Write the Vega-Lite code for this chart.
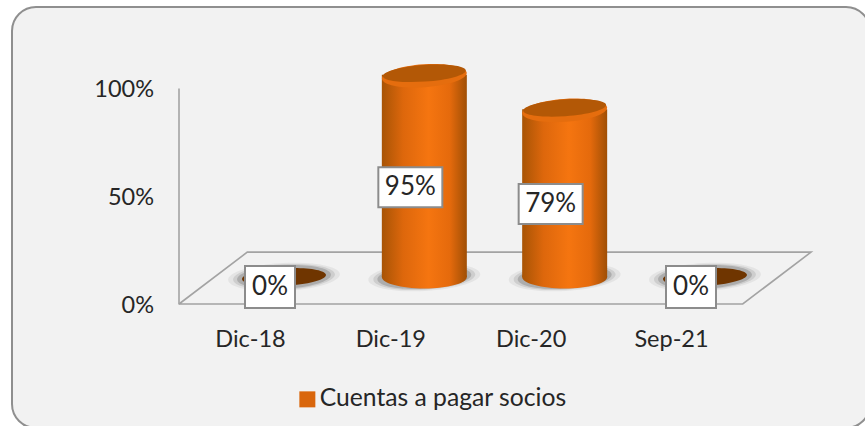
{
"$schema":"https://vega.github.io/schema/vega-lite/v6.json",
"width":858,"height":421,"autosize":"none",
"padding":{"left":12,"top":7,"right":0,"bottom":0},
"background":"#ffffff",
"view":{"fill":"#f2f2f2","stroke":"#8f8f8f","strokeWidth":2,"cornerRadius":24},
"config":{"font":"Lato"},
"datasets":{
"valores":[
{"mes":"Dic-18","valor":0,"serie":"Cuentas a pagar socios"},
{"mes":"Dic-19","valor":0.95,"serie":"Cuentas a pagar socios"},
{"mes":"Dic-20","valor":0.79,"serie":"Cuentas a pagar socios"},
{"mes":"Sep-21","valor":0,"serie":"Cuentas a pagar socios"}],
"suelo":[
{"orden":1,"u":0,"v":0},
{"orden":2,"u":0.892,"v":0},
{"orden":3,"u":1,"v":0.24},
{"orden":4,"u":0.108,"v":0.24},
{"orden":5,"u":0,"v":0}]
},
"resolve":{"scale":{"x":"independent","y":"independent"},"axis":{"x":"independent","y":"independent"}},
"layer":[
{"data":{"name":"suelo"},
 "mark":{"type":"line","stroke":"#a3a3a3","strokeWidth":1.6,"interpolate":"linear"},
 "encoding":{
  "x":{"field":"u","type":"quantitative","axis":null,"scale":{"domain":[0,1],"range":[167,799]}},
  "y":{"field":"v","type":"quantitative","axis":null,"scale":{"domain":[0,1],"range":[297,81]}},
  "order":{"field":"orden","type":"ordinal"}}},
{"data":{"name":"valores"},
 "encoding":{
  "x":{"field":"mes","type":"nominal","sort":null,"title":null,
   "scale":{"type":"point","padding":0,"range":[238,659],"domain":["Dic-18","Dic-19","Dic-20","Sep-21"]},
   "axis":{"orient":"bottom","offset":-101,"domain":false,"ticks":false,"labelPadding":0,"labelAngle":0,"labelFont":"Lato","labelFontSize":23.5,"labelColor":"#262626","grid":false}},
  "y":{"field":"valor","type":"quantitative","title":null,
   "scale":{"domain":[0,1],"range":[297,81]},
   "axis":{"orient":"left","offset":-166.5,"values":[0,0.5,1],"format":".0%","ticks":false,"labelPadding":25,"labelOffset":1.5,"labelFont":"Lato","labelFontSize":23.5,"labelColor":"#262626","domainColor":"#a3a3a3","domainWidth":1.6,"grid":false}}},
 "layer":[
  {"encoding":{"y":{"datum":0,"type":"quantitative"}},"mark":{"type":"point","filled":true,"shape":"M-1,0A1,0.25,0,1,1,1,0A1,0.25,0,1,1,-1,0Z","size":12544,"fill":"#808080","opacity":0.12,"angle":357,"xOffset":34,"yOffset":-27}},
  {"encoding":{"y":{"datum":0,"type":"quantitative"}},"mark":{"type":"point","filled":true,"shape":"M-1,0A1,0.25,0,1,1,1,0A1,0.25,0,1,1,-1,0Z","size":10404,"fill":"#808080","opacity":0.22,"angle":357,"xOffset":34,"yOffset":-27}},
  {"encoding":{"y":{"datum":0,"type":"quantitative"}},"mark":{"type":"point","filled":true,"shape":"M-1,0A1,0.25,0,1,1,1,0A1,0.25,0,1,1,-1,0Z","size":8836,"fill":"#707070","opacity":0.35,"angle":357,"xOffset":34,"yOffset":-27}},
  {"transform":[{"filter":"datum.valor === 0"}],"mark":{"type":"point","filled":true,"shape":"M-1,0A1,0.21,0,1,1,1,0A1,0.21,0,1,1,-1,0Z","size":7056,"fill":"#6f3500","opacity":1,"angle":357,"xOffset":34,"yOffset":-27}},
  {"transform":[{"filter":"datum.valor > 0"}],"encoding":{"y":{"datum":0,"type":"quantitative"}},"mark":{"type":"point","filled":true,"shape":"M-1,0A1,0.27,0,1,1,1,0A1,0.27,0,1,1,-1,0Z","size":7225,"opacity":1,"xOffset":34,"yOffset":-27,
    "fill":{"gradient":"linear","x1":0,"x2":1,"y1":0,"y2":0,"stops":[{"offset":0,"color":"#a85405"},{"offset":0.25,"color":"#dd670c"},{"offset":0.55,"color":"#f57510"},{"offset":0.8,"color":"#e56a0c"},{"offset":1,"color":"#a04f05"}]}}},
  {"transform":[{"filter":"datum.valor > 0"}],
   "mark":{"type":"bar","size":85,"xOffset":34,"yOffset":-24,"y2Offset":-27,
    "fill":{"gradient":"linear","x1":0,"x2":1,"y1":0,"y2":0,"stops":[{"offset":0,"color":"#a85405"},{"offset":0.25,"color":"#dd670c"},{"offset":0.55,"color":"#f57510"},{"offset":0.8,"color":"#e56a0c"},{"offset":1,"color":"#a04f05"}]}},
   "encoding":{"y2":{"datum":0}}},
  {"transform":[{"filter":"datum.valor > 0"}],"mark":{"type":"point","filled":true,"shape":"M-1,0A1,0.27,0,1,1,1,0A1,0.27,0,1,1,-1,0Z","size":7225,"fill":"#e56d0e","opacity":1,"angle":356,"xOffset":34,"yOffset":-23}},
  {"transform":[{"filter":"datum.valor > 0"}],"mark":{"type":"point","filled":true,"shape":"M-1,0A1,0.2,0,1,1,1,0A1,0.2,0,1,1,-1,0Z","size":6889,"fill":"#b35806","opacity":1,"angle":356,"xOffset":34,"yOffset":-25.5}},
  {"mark":{"type":"point","filled":true,"opacity":0,"size":1},
   "encoding":{"fill":{"field":"serie","type":"nominal","title":null,"scale":{"range":["#d9660c"]},
     "legend":{"orient":"none","legendX":283,"legendY":380,"title":null,"symbolType":"square","symbolSize":256,"symbolOpacity":1,"symbolStrokeWidth":0,"labelFont":"Lato","labelFontSize":24.7,"labelLimit":400,"labelColor":"#262626","labelOffset":0}}}}
 ]},
{"data":{"name":"valores"},
 "encoding":{
  "x":{"field":"mes","type":"nominal","sort":null,"axis":null,"scale":{"type":"point","padding":0,"range":[238,659],"domain":["Dic-18","Dic-19","Dic-20","Sep-21"]}},
  "y":{"field":"valor","type":"quantitative","axis":null,"scale":{"domain":[0,2.057],"range":[297,81]}}},
 "layer":[
  {"transform":[{"filter":"datum.valor > 0"}],"mark":{"type":"point","filled":true,"shape":"M-1,-0.625H1V0.625H-1Z","size":4096,"fill":"#ffffff","stroke":"#8c8c8c","strokeWidth":2,"opacity":1,"xOffset":20,"yOffset":-17}},
  {"transform":[{"filter":"datum.valor === 0"}],"mark":{"type":"point","filled":true,"shape":"M-1,-0.84H1V0.84H-1Z","size":2500,"fill":"#ffffff","stroke":"#8c8c8c","strokeWidth":2,"opacity":1,"xOffset":20,"yOffset":-17}},
  {"mark":{"type":"text","font":"Lato","fontSize":26,"fill":"#262626","xOffset":20,"yOffset":-17,"baseline":"middle"},
   "encoding":{"text":{"field":"valor","type":"quantitative","format":".0%"}}}
 ]}
]
}
